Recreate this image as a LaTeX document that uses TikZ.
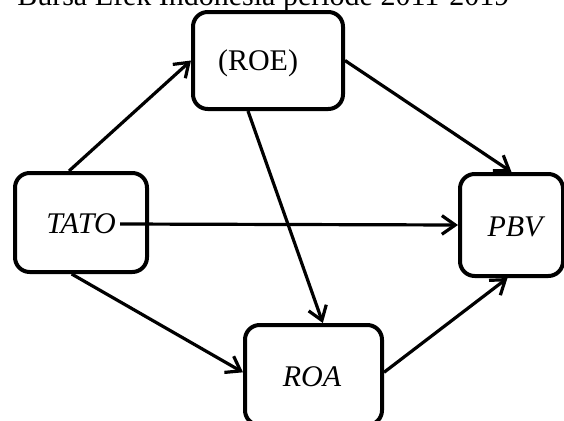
\documentclass[tikz,border=0pt]{standalone}
\usepackage{fontspec}
\setmainfont{Liberation Serif}
\usetikzlibrary{arrows.meta}

\begin{document}
\begin{tikzpicture}[x=0.75pt,y=0.75pt,yscale=-1,xscale=1,
  box/.style={draw,line width=3pt,rounded corners=11pt,inner sep=0pt},
  lbl/.style={inner sep=3pt,font=\fontsize{22.5}{27}\selectfont},
  link/.style={line width=2.4pt,-{Straight Barb[length=10pt,width=14pt,line width=2.4pt]}}]
\useasboundingbox (0,0) rectangle (564,421);

% Title Node (cut off at the top)
\draw (17,5) node [anchor=base west][inner sep=0pt][font=\fontsize{22.5}{27}\selectfont] (title) {Bursa Efek Indonesia periode 2011-2019};

%Rounded Rect [id:roe]
\node [box,minimum width=112.5pt,minimum height=72.75pt,fill=white] (roe) at (268,60.5) {};
%Rounded Rect [id:tato]
\node [box,minimum width=99pt,minimum height=74.25pt] (tato) at (81,222.5) {};
%Rounded Rect [id:pbv]
\node [box,minimum width=77.25pt,minimum height=76.5pt] (pbv) at (511.5,225) {};
%Rounded Rect [id:roa]
\node [box,minimum width=102.75pt,minimum height=75pt] (roa) at (313.5,375) {};

% Text Node
\node [lbl] (roetext) at (258,63) {(ROE)};
% Text Node
\node [lbl] (tatotext) at (81,224) {\itshape TATO};
% Text Node
\node [lbl] (pbvtext) at (515,227) {\itshape PBV};
% Text Node
\node [lbl] (roatext) at (312,377) {\itshape ROA};

%Straight Lines
\draw [link] ([xshift=-9pt]tato.north) -- (roe.west);
\draw [link] (roe.east) -- (pbv.north);
\draw [link] (tatotext.east) -- (pbv.west);
\draw [link] ([xshift=-7pt]tato.south) -- ([yshift=-2pt]roa.west);
\draw [link] ([xshift=-15pt]roe.south) -- ([xshift=7pt]roa.north);
\draw [link] ([yshift=-2pt]roa.east) -- ([xshift=-3pt]pbv.south);

\end{tikzpicture}
\end{document}
